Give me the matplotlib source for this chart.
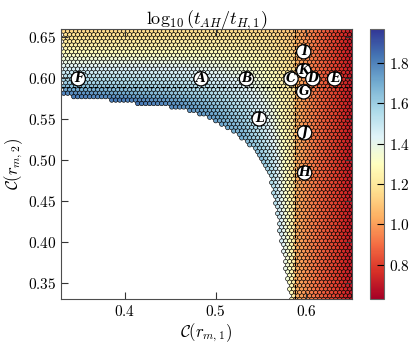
import numpy as np
import matplotlib
matplotlib.use("Agg")
import matplotlib.pyplot as plt

plt.rcParams['font.family'] = 'serif'
plt.rcParams['font.serif'] = ['cmr10']
plt.rcParams['mathtext.fontset'] = 'cm'
plt.rcParams['axes.formatter.use_mathtext'] = True

# colour values, left of the vertical dashed line
tab_x = [0.33, 0.40, 0.46, 0.50, 0.53, 0.55, 0.565, 0.575, 0.587]
tab_y = [0.33, 0.40, 0.46, 0.50, 0.53, 0.555, 0.57, 0.58, 0.59, 0.60, 0.615, 0.63, 0.645, 0.66]
tab_v = [
    [1.60, 1.60, 1.60, 1.60, 1.60, 1.60, 1.60, 1.45, 1.20],
    [1.60, 1.60, 1.60, 1.60, 1.60, 1.60, 1.60, 1.42, 1.20],
    [1.65, 1.65, 1.65, 1.65, 1.65, 1.65, 1.55, 1.36, 1.18],
    [1.70, 1.70, 1.70, 1.70, 1.70, 1.65, 1.48, 1.32, 1.18],
    [1.75, 1.75, 1.75, 1.75, 1.68, 1.53, 1.40, 1.28, 1.18],
    [1.80, 1.80, 1.80, 1.72, 1.58, 1.47, 1.36, 1.26, 1.17],
    [1.85, 1.85, 1.75, 1.62, 1.52, 1.43, 1.34, 1.25, 1.17],
    [1.82, 1.72, 1.63, 1.56, 1.48, 1.40, 1.32, 1.24, 1.17],
    [1.65, 1.60, 1.56, 1.50, 1.44, 1.37, 1.30, 1.23, 1.17],
    [1.55, 1.53, 1.50, 1.45, 1.40, 1.34, 1.28, 1.22, 1.16],
    [1.42, 1.42, 1.41, 1.38, 1.34, 1.30, 1.25, 1.20, 1.15],
    [1.30, 1.30, 1.30, 1.29, 1.27, 1.24, 1.21, 1.17, 1.13],
    [1.20, 1.20, 1.21, 1.21, 1.20, 1.18, 1.16, 1.13, 1.10],
    [1.13, 1.14, 1.15, 1.15, 1.14, 1.13, 1.12, 1.10, 1.08],
]
# right of the dashed line
right_x = [0.587, 0.60, 0.62, 0.64, 0.65]
right_v = [1.05, 0.97, 0.86, 0.76, 0.70]

# left edge of the filled region (below the top band)
bnd_y = [0.33, 0.341, 0.366, 0.390, 0.415, 0.439, 0.463, 0.488, 0.500, 0.512,
         0.524, 0.537, 0.549, 0.561, 0.566, 0.570, 0.574, 0.578]
bnd_x = [0.582, 0.581, 0.577, 0.574, 0.570, 0.567, 0.563, 0.557, 0.551, 0.543,
         0.532, 0.516, 0.497, 0.470, 0.440, 0.400, 0.380, 0.335]

lab_names = ['F', 'A', 'B', 'C', 'K', 'D', 'E', 'I', 'G', 'L', 'J', 'H']
lab_x = [0.349, 0.484, 0.534, 0.583, 0.597, 0.607, 0.631, 0.597, 0.597, 0.548, 0.598, 0.598]
lab_y = [0.599, 0.599, 0.599, 0.599, 0.609, 0.599, 0.599, 0.632, 0.583, 0.550, 0.533, 0.484]

# hexagonal sampling grid
dx, dy = 0.0044, 0.0042
px, py, pv = [], [], []
for i, y in enumerate(np.arange(0.657, 0.325, -dy)):
    xs = np.arange(0.333 + (i % 2) * dx / 2, 0.655, dx)
    if y < 0.58:
        xs = xs[xs >= np.interp(y, bnd_y, bnd_x)]
    rows = np.array([np.interp(xs, tab_x, r) for r in tab_v])
    left = np.array([np.interp(y, tab_y, rows[:, k]) for k in range(len(xs))])
    right = np.interp(xs, right_x, right_v)
    px.extend(xs)
    py.extend([y] * len(xs))
    pv.extend(np.where(xs < 0.587, left, right))

fig = plt.figure(figsize=(4.15, 3.48), dpi=100)
ax = fig.add_axes([0.147, 0.141, 0.701, 0.776])
cax = fig.add_axes([0.892, 0.141, 0.034, 0.776])

sc = ax.scatter(px, py, c=pv, cmap='RdYlBu', vmin=0.63, vmax=1.97,
                s=10, edgecolors='black', linewidths=0.45)
ax.axvline(0.587, color='black', ls='--', lw=0.8, dashes=(3, 2))
ax.axhline(0.589, color='black', ls='--', lw=0.8, dashes=(3, 2))

for n, x, y in zip(lab_names, lab_x, lab_y):
    ax.text(x, y, n, ha='center', va='center', fontsize=9, fontweight='bold',
            fontstyle='italic', family='DejaVu Serif',
            bbox=dict(boxstyle='circle,pad=0.05', fc='white', ec='black', lw=0.9))

ax.set_xlim(0.33, 0.65)
ax.set_ylim(0.33, 0.66)
ax.set_xticks([0.4, 0.5, 0.6])
ax.set_yticks([0.35, 0.40, 0.45, 0.50, 0.55, 0.60, 0.65])
ax.tick_params(direction='in', top=True, right=True, labelsize=11, length=5, color='0.2')
for s in ax.spines.values():
    s.set_color('0.3')
ax.set_title(r'$\log_{10}(t_{AH}/t_{H,1})$', fontsize=13, pad=3)
ax.set_xlabel(r'$\mathcal{C}(r_{m,1})$', fontsize=12, labelpad=2)
ax.set_ylabel(r'$\mathcal{C}(r_{m,2})$', fontsize=12, labelpad=2)

cb = fig.colorbar(sc, cax=cax, ticks=[0.8, 1.0, 1.2, 1.4, 1.6, 1.8])
cb.ax.tick_params(direction='in', labelsize=11, length=5)
cb.outline.set_edgecolor('0.4')

fig.savefig('out.png', dpi=100)
